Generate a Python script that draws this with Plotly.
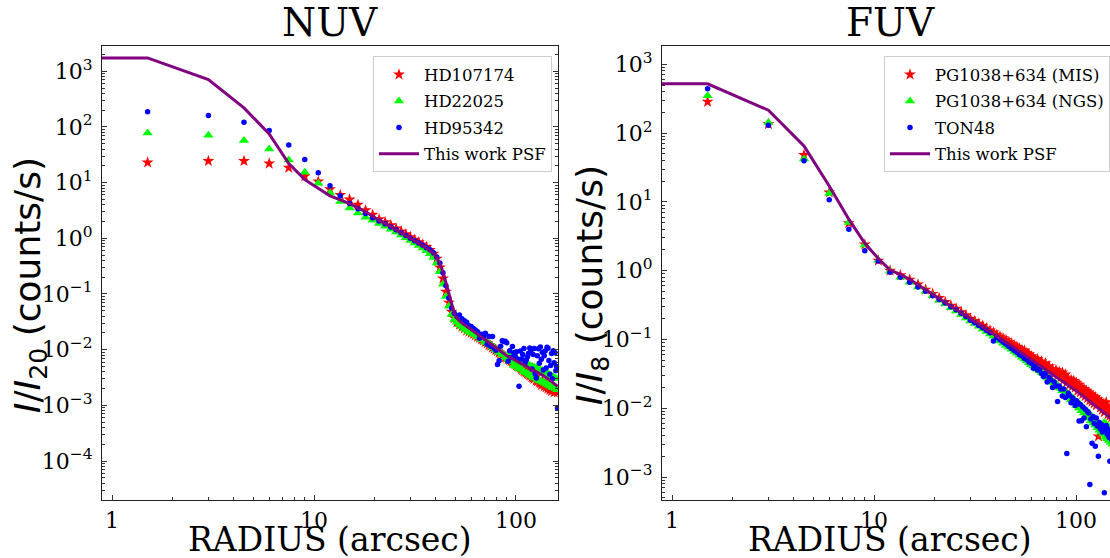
import plotly.graph_objects as go

# ---------------- data ----------------
radius = [
    1.5, 3, 4.5, 6, 7.5, 9, 10.5, 12, 13.5, 15,
    16.5, 18, 19.5, 21, 22.5, 24, 25.5, 27, 28.5, 30,
    31.5, 33, 34.5, 36, 37.5, 39, 40.5, 42, 43.5, 45,
    46.5, 48, 49.5, 51, 52.5, 54, 55.5, 57, 58.5, 60,
    61.5, 63, 64.5, 66, 67.5, 69, 70.5, 72, 73.5, 75,
    76.5, 78, 79.5, 81, 82.5, 84, 85.5, 87, 88.5, 90,
    91.5, 93, 94.5, 96, 97.5, 99, 100.5, 102, 103.5, 105,
    106.5, 108, 109.5, 111, 112.5, 114, 115.5, 117, 118.5, 120,
    121.5, 123, 124.5, 126, 127.5, 129, 130.5, 132, 133.5, 135,
    136.5, 138, 139.5, 141, 142.5, 144, 145.5, 147, 148.5, 150,
    151.5, 153, 154.5, 156, 157.5, 159, 160.5,
]

nuv_hd107174 = [
    23, 24.5, 24.5, 22, 18.5, 13, 10.5, 7.6, 6.0, 5.0,
    4.0, 3.2, 2.65, 2.2, 1.95, 1.72, 1.5, 1.33, 1.18, 1.05,
    0.94, 0.85, 0.77, 0.70, 0.62, 0.53, 0.43, 0.30, 0.19, 0.11,
    0.07, 0.048, 0.037, 0.031, 0.028, 0.026, 0.024, 0.022, 0.021, 0.0200,
    0.0190, 0.0180, 0.0170, 0.0163, 0.0152, 0.0146, 0.0136, 0.0130, 0.0121, 0.0117,
    0.0109, 0.0104, 0.0098, 0.0094, 0.0088, 0.0085, 0.0080, 0.0078, 0.0073, 0.0071,
    0.0067, 0.0065, 0.0062, 0.0060, 0.0057, 0.0055, 0.0052, 0.0050, 0.0049, 0.0047,
    0.0045, 0.0043, 0.0041, 0.0040, 0.0039, 0.0037, 0.0036, 0.0035, 0.0034, 0.0032,
    0.0031, 0.0030, 0.0032, 0.0028, 0.0027, 0.0029, 0.0026, 0.0025, 0.0023, 0.0027,
    0.0024, 0.0022, 0.0025, 0.0021, 0.0023, 0.0020, 0.0022, 0.0019, 0.0021, 0.0018,
    0.0020, 0.0019, 0.0017, 0.0020, 0.0018, 0.0019, 0.0017,
]

nuv_hd22025 = [
    78, 71, 57, 40, 25.5, 15.3, 9.7, 6.5, 4.6, 3.5,
    2.85, 2.4, 2.1, 1.85, 1.65, 1.45, 1.3, 1.15, 1.02, 0.91,
    0.82, 0.74, 0.67, 0.60, 0.53, 0.45, 0.36, 0.25, 0.15, 0.09,
    0.06, 0.043, 0.035, 0.031, 0.028, 0.026, 0.024, 0.0225, 0.021, 0.020,
    0.0195, 0.0185, 0.0172, 0.0168, 0.0152, 0.0150, 0.0138, 0.0134, 0.0125, 0.0121,
    0.0112, 0.0109, 0.0100, 0.0098, 0.0090, 0.0089, 0.0082, 0.0081, 0.0072, 0.0076,
    0.0066, 0.0080, 0.0060, 0.0072, 0.0052, 0.0068, 0.0050, 0.0064, 0.0046, 0.0061,
    0.0044, 0.0060, 0.0040, 0.0056, 0.0038, 0.0055, 0.0036, 0.0052, 0.0034, 0.0050,
    0.0032, 0.0049, 0.0031, 0.0047, 0.0029, 0.0045, 0.0028, 0.0043, 0.0027, 0.0042,
    0.0026, 0.0040, 0.0025, 0.0038, 0.0024, 0.0037, 0.0023, 0.0035, 0.0022, 0.0034,
    0.0021, 0.0032, 0.0021, 0.0031, 0.0020, 0.0030, 0.0019,
]

nuv_hd95342 = [
    188, 160, 121, 86, 47.5, 26, 15, 8.8, 5.8, 4.2,
    3.4, 2.8, 2.35, 2.05, 1.82, 1.6, 1.42, 1.26, 1.12, 1.0,
    0.90, 0.82, 0.75, 0.68, 0.62, 0.55, 0.46, 0.36, 0.24, 0.14,
    0.085, 0.056, 0.045, 0.040, 0.042, 0.036, 0.033, 0.031, 0.027, 0.026,
    0.024, 0.0226, 0.021, 0.016, 0.019, 0.0175, 0.0197, 0.0125, 0.0172, 0.0115,
    0.0172, 0.0106, 0.0098, 0.0054, 0.0063, 0.0115, 0.0145, 0.0140, 0.0142, 0.0133,
    0.0062, 0.0096, 0.0072, 0.0114, 0.0088, 0.0077, 0.0092, 0.0068, 0.0022, 0.0095,
    0.0068, 0.0082, 0.0105, 0.0058, 0.0066, 0.0075, 0.0086, 0.0107, 0.0098, 0.0045,
    0.0082, 0.0105, 0.0037, 0.0031, 0.0078, 0.0104, 0.0057, 0.0112, 0.0067, 0.0090,
    0.0043, 0.0078, 0.0095, 0.0047, 0.0110, 0.0106, 0.0064, 0.0036, 0.0052, 0.0085,
    0.0030, 0.0096, 0.0058, 0.0088, 0.0042, 0.0050, 0.0009,
]

psf_nuv_r = [0.5, 1.5, 3, 4.5, 6, 7.5, 9, 10.5, 12, 13.5, 15, 16.5, 18, 19.5, 21,
             24, 27, 30, 33, 36, 39, 40.5, 42, 43.5, 45, 46.5, 48, 49.5, 51, 54,
             60, 66, 72, 78, 90, 105, 120, 135, 150, 160.5]
psf_nuv = [1740, 1740, 710, 220, 75, 22, 11.3, 7.8, 5.8, 4.9, 4.2, 3.5, 3.0, 2.5, 2.1,
           1.62, 1.25, 0.97, 0.80, 0.67, 0.54, 0.45, 0.35, 0.25, 0.16, 0.10, 0.063, 0.045, 0.037, 0.030,
           0.023, 0.018, 0.0142, 0.0114, 0.0078, 0.0058, 0.0045, 0.0035, 0.0027, 0.0022]

fuv_pg_mis = [
    285, 135, 48, 13.7, 4.9, 2.4, 1.4, 1.0, 0.86, 0.74,
    0.63, 0.53, 0.46, 0.40, 0.35, 0.31, 0.28, 0.25, 0.225, 0.20,
    0.185, 0.17, 0.158, 0.145, 0.135, 0.126, 0.117, 0.110, 0.104, 0.098,
    0.092, 0.087, 0.082, 0.078, 0.074, 0.070, 0.069, 0.063, 0.061, 0.057,
    0.054, 0.050, 0.052, 0.046, 0.048, 0.041, 0.045, 0.038, 0.041, 0.035,
    0.037, 0.032, 0.036, 0.030, 0.034, 0.028, 0.033, 0.026, 0.031, 0.024,
    0.027, 0.022, 0.026, 0.021, 0.025, 0.020, 0.0235, 0.018, 0.022, 0.017,
    0.020, 0.016, 0.019, 0.015, 0.018, 0.014, 0.017, 0.013, 0.016, 0.0125,
    0.015, 0.0118, 0.0145, 0.011, 0.0135, 0.0039, 0.0128, 0.0102, 0.0122, 0.0095,
    0.0115, 0.0088, 0.011, 0.0122, 0.0102, 0.0082, 0.0098, 0.0078, 0.0094, 0.0074,
    0.0090, 0.0072, 0.0086, 0.0069, 0.0082, 0.0066, 0.0078,
]

fuv_pg_ngs = [
    350, 142, 42, 13.2, 5.0, 2.36, 1.4, 0.98, 0.80, 0.68,
    0.58, 0.50, 0.43, 0.37, 0.33, 0.29, 0.26, 0.23, 0.205, 0.185,
    0.17, 0.155, 0.142, 0.13, 0.12, 0.111, 0.102, 0.095, 0.088, 0.082,
    0.077, 0.072, 0.067, 0.063, 0.059, 0.055, 0.052, 0.049, 0.046, 0.043,
    0.041, 0.039, 0.037, 0.035, 0.033, 0.032, 0.030, 0.028, 0.027, 0.0255,
    0.0245, 0.0235, 0.022, 0.0215, 0.020, 0.0195, 0.018, 0.018, 0.016, 0.017,
    0.0148, 0.0155, 0.0133, 0.0142, 0.0122, 0.013, 0.011, 0.0121, 0.0101, 0.0112,
    0.0092, 0.0103, 0.0085, 0.0096, 0.0078, 0.0089, 0.0072, 0.0082, 0.0066, 0.0076,
    0.0061, 0.0070, 0.0057, 0.0066, 0.0052, 0.0061, 0.0048, 0.0057, 0.0045, 0.0053,
    0.0042, 0.0062, 0.0038, 0.0058, 0.0036, 0.0055, 0.0034, 0.0052, 0.0032, 0.0050,
    0.0030, 0.0035, 0.0028, 0.0033, 0.0027, 0.0031, 0.0025,
]

fuv_ton48 = [
    440, 130, 39.5, 10.7, 4.0, 1.95, 1.38, 0.95, 0.80, 0.68,
    0.58, 0.50, 0.43, 0.38, 0.34, 0.30, 0.27, 0.24, 0.215, 0.19,
    0.175, 0.16, 0.148, 0.136, 0.125, 0.095, 0.108, 0.099, 0.092, 0.086,
    0.079, 0.074, 0.069, 0.065, 0.060, 0.058, 0.053, 0.051, 0.047, 0.045,
    0.038, 0.042, 0.036, 0.037, 0.032, 0.029, 0.032, 0.024, 0.028, 0.026,
    0.020, 0.024, 0.021, 0.0125, 0.021, 0.019, 0.015, 0.019, 0.0143, 0.0022,
    0.0165, 0.0152, 0.012, 0.0142, 0.0132, 0.011, 0.0128, 0.0120, 0.0065, 0.0113,
    0.0066, 0.0104, 0.0072, 0.0097, 0.0054, 0.0090, 0.0085, 0.00078, 0.0070, 0.0031,
    0.0076, 0.0060, 0.0028, 0.0072, 0.0055, 0.0020, 0.0062, 0.0050, 0.0058, 0.0045,
    0.0052, 0.00059, 0.0048, 0.0056, 0.0042, 0.0050, 0.0038, 0.0017, 0.0044, 0.0035,
    0.0040, 0.0030, 0.0037, 0.0028, 0.0034, 0.0025, 0.0031,
]

psf_fuv_r = [0.5, 1.5, 3, 4.5, 6, 7.5, 9, 10.5, 12, 13.5, 15, 18, 21, 24, 27, 30,
             36, 42, 48, 54, 60, 70, 80, 90, 100, 110, 120, 130, 140, 150, 160.5]
psf_fuv = [520, 520, 215, 65, 17, 5.6, 2.5, 1.5, 1.02, 0.88, 0.75, 0.53, 0.40, 0.31, 0.25, 0.20,
           0.14, 0.105, 0.08, 0.063, 0.051, 0.037, 0.029, 0.0225, 0.018, 0.0145, 0.0118, 0.0098,
           0.0082, 0.0070, 0.006]

x_ticks = [1, 10, 100]
x_ticktext = ["1", "10", "100"]
nuv_yticks = [1e3, 1e2, 1e1, 1e0, 1e-1, 1e-2, 1e-3, 1e-4]
nuv_yticktext = ["10<sup>3</sup>", "10<sup>2</sup>", "10<sup>1</sup>", "10<sup>0</sup>",
                 "10<sup>\u22121</sup>", "10<sup>\u22122</sup>", "10<sup>\u22123</sup>", "10<sup>\u22124</sup>"]
fuv_yticks = [1e3, 1e2, 1e1, 1e0, 1e-1, 1e-2, 1e-3]
fuv_yticktext = nuv_yticktext[:7]

# ---------------- style ----------------
SERIF = "DejaVu Serif"
SANS = "DejaVu Sans"
W, H = 1110, 558
TOP, BOT = 45.7, 500.0
PH = BOT - TOP

minor_x = [m * 10 ** k for k in range(0, 3) for m in range(2, 10)]
minor_y = [m * 10 ** k for k in range(-5, 4) for m in range(2, 10)]

fig = go.Figure()

def scatter(x, y, name, symbol, color, size, xa, ya, leg):
    fig.add_trace(go.Scatter(
        x=x, y=y, mode="markers", name=name, xaxis=xa, yaxis=ya, legend=leg,
        legendgroup=leg + name,
        marker=dict(symbol=symbol, color=color, size=size, line=dict(width=0)),
    ))

def line(x, y, name, xa, ya, leg):
    fig.add_trace(go.Scatter(
        x=x, y=y, mode="lines", name=name, xaxis=xa, yaxis=ya, legend=leg,
        legendgroup=leg + name,
        line=dict(color="purple", width=3),
    ))

scatter(radius, nuv_hd107174, "HD107174", "star", "red", 9, "x", "y", "legend")
scatter(radius, nuv_hd22025, "HD22025", "triangle-up", "lime", 9, "x", "y", "legend")
scatter(radius, nuv_hd95342, "HD95342", "circle", "blue", 5.5, "x", "y", "legend")
line(psf_nuv_r, psf_nuv, "This work PSF", "x", "y", "legend")

scatter(radius, fuv_pg_mis, "PG1038+634 (MIS)", "star", "red", 9, "x2", "y2", "legend2")
scatter(radius, fuv_pg_ngs, "PG1038+634 (NGS)", "triangle-up", "lime", 9, "x2", "y2", "legend2")
scatter(radius, fuv_ton48, "TON48", "circle", "blue", 5.5, "x2", "y2", "legend2")
line(psf_fuv_r, psf_fuv, "This work PSF", "x2", "y2", "legend2")

tickfont = dict(family=SERIF, size=22, color="black")

def xaxis(domain, rng, anchor):
    return dict(
        type="log", domain=domain, range=rng, anchor=anchor,
        showline=True, linecolor="#222", linewidth=1.2, mirror=True,
        ticks="inside", ticklen=5, tickwidth=1, tickcolor="#333",
        tickvals=x_ticks, ticktext=x_ticktext, tickfont=tickfont,
        showgrid=False, zeroline=False,
        minor=dict(ticks="inside", ticklen=3, tickwidth=1, tickcolor="#333",
                   tickvals=minor_x, showgrid=False),
    )

def yaxis(rng, anchor, tv, tt, mirror):
    return dict(
        type="log", domain=[0, 1], range=rng, anchor=anchor,
        showline=True, linecolor="#222", linewidth=1.2, mirror=mirror,
        ticks="inside", ticklen=5, tickwidth=1, tickcolor="#333",
        tickvals=tv, ticktext=tt, tickfont=tickfont, ticklabelstandoff=4,
        showgrid=False, zeroline=False,
        minor=dict(ticks="inside", ticklen=3, tickwidth=1, tickcolor="#333",
                   tickvals=minor_y, showgrid=False),
    )

legend_style = dict(bgcolor="rgba(255,255,255,0.85)", bordercolor="#cccccc", borderwidth=1,
                    font=dict(family=SERIF, size=16.5, color="black"), itemwidth=40,
                    tracegroupgap=2, yanchor="top", y=1 - (56 - TOP) / PH)

fig.update_layout(
    width=W, height=H,
    margin=dict(l=0, r=0, t=TOP, b=H - BOT, pad=0),
    paper_bgcolor="white", plot_bgcolor="white",
    xaxis=xaxis([102 / W, 558 / W], [-0.0496, 2.208], "y"),
    yaxis=yaxis([-4.70, 3.454], "x", nuv_yticks, nuv_yticktext, "ticks"),
    xaxis2=xaxis([662 / W, 1.0], [-0.0496, 2.168], "y2"),
    yaxis2=yaxis([-3.334, 3.266], "x2", fuv_yticks, fuv_yticktext, False),
    legend=dict(x=552 / W, xanchor="right", **legend_style),
    legend2=dict(x=1.0, xanchor="right", **legend_style),
    showlegend=True,
)

def ann(text, xpx, ypx, size, family, angle=0):
    fig.add_annotation(text=text, x=xpx / W, y=(BOT - ypx) / PH, xref="paper", yref="paper",
                       showarrow=False, textangle=angle, xanchor="center", yanchor="middle",
                       font=dict(family=family, size=size, color="black"))

ann("NUV", 330, 22, 39, SERIF)
ann("FUV", 890, 22, 39, SERIF)
ann("RADIUS (arcsec)", 330, 540, 33, SERIF)
ann("RADIUS (arcsec)", 890, 540, 33, SERIF)
ann("<i>I</i>/<i>I</i><sub>20</sub> (counts/s)", 30, 285, 36, SANS, -90)
ann("<i>I</i>/<i>I</i><sub>8</sub> (counts/s)", 592, 285, 36, SANS, -90)

fig.write_html("out.html", config={"displayModeBar": False},
               post_script="document.body.style.margin='0px';document.body.style.overflow='hidden';")
